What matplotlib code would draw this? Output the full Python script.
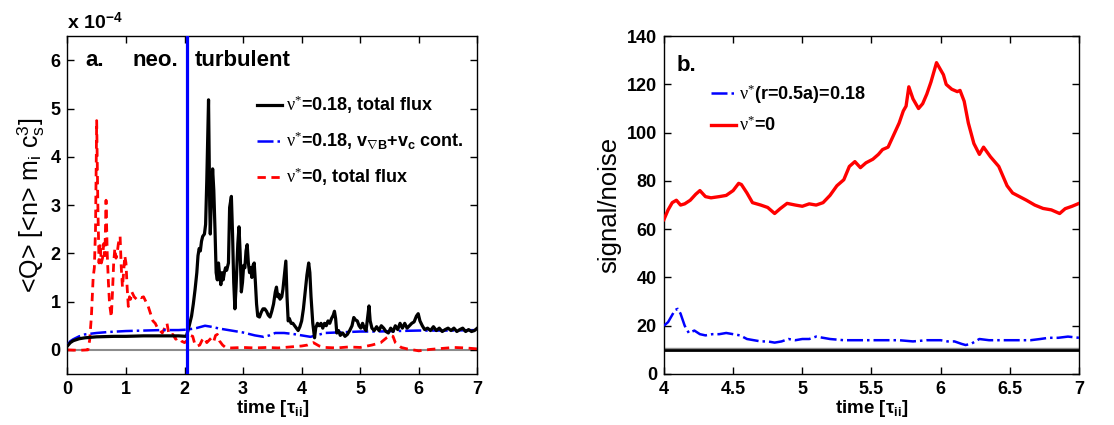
import matplotlib
matplotlib.use("Agg")
import matplotlib.pyplot as plt

plt.rcParams['font.family'] = ['Liberation Sans', 'DejaVu Sans']
plt.rcParams['mathtext.fontset'] = 'custom'
plt.rcParams['mathtext.rm'] = 'Liberation Serif'
plt.rcParams['mathtext.bf'] = 'Liberation Sans:bold'
plt.rcParams['mathtext.it'] = 'Liberation Serif:italic'

# ---------------- Panel a data (units of 1e-4) ----------------
black_t = [0.00, 0.05, 0.10, 0.20, 0.30, 0.50, 0.80, 1.00, 1.30, 1.60, 1.90, 2.03, 2.06, 2.09, 2.12, 2.15,
           2.18, 2.21, 2.23, 2.25, 2.27, 2.29, 2.31, 2.34, 2.36, 2.38, 2.41, 2.43, 2.44, 2.46, 2.48, 2.50,
           2.52, 2.54, 2.56, 2.58, 2.60, 2.62, 2.64, 2.66, 2.68, 2.70, 2.72, 2.75, 2.77, 2.80, 2.82, 2.84,
           2.86, 2.88, 2.91, 2.93, 2.95, 2.97, 2.99, 3.01, 3.03, 3.05, 3.07, 3.09, 3.11, 3.13, 3.15, 3.17,
           3.19, 3.21, 3.23, 3.25, 3.28, 3.31, 3.34, 3.37, 3.40, 3.43, 3.46, 3.49, 3.52, 3.55, 3.57, 3.59,
           3.61, 3.63, 3.66, 3.68, 3.71, 3.73, 3.75, 3.77, 3.79, 3.82, 3.85, 3.88, 3.91, 3.94, 3.97, 4.00,
           4.03, 4.06, 4.09, 4.12, 4.14, 4.16, 4.19, 4.22, 4.24, 4.27, 4.30, 4.33, 4.36, 4.39, 4.42, 4.45,
           4.48, 4.51, 4.54, 4.56, 4.58, 4.60, 4.63, 4.66, 4.70, 4.74, 4.78, 4.82, 4.86, 4.89, 4.92, 4.95,
           4.98, 5.01, 5.04, 5.07, 5.10, 5.13, 5.15, 5.17, 5.20, 5.24, 5.28, 5.32, 5.36, 5.40, 5.44, 5.48,
           5.52, 5.56, 5.60, 5.64, 5.68, 5.72, 5.76, 5.80, 5.84, 5.88, 5.92, 5.96, 5.99, 6.02, 6.06, 6.10,
           6.15, 6.20, 6.25, 6.30, 6.35, 6.40, 6.45, 6.50, 6.55, 6.60, 6.65, 6.70, 6.75, 6.80, 6.85, 6.90,
           6.95, 7.00]
black_q = [0.08, 0.15, 0.19, 0.23, 0.25, 0.27, 0.28, 0.28, 0.29, 0.29, 0.29, 0.28, 0.40, 0.55, 0.70, 0.95,
           1.25, 1.60, 1.95, 2.10, 2.05, 2.25, 2.35, 2.40, 2.60, 3.50, 5.18, 3.00, 2.40, 3.20, 3.75, 3.30,
           2.50, 1.60, 1.45, 1.80, 1.55, 1.35, 1.60, 1.45, 1.60, 1.70, 1.65, 1.80, 2.95, 3.18, 2.40, 1.40,
           0.85, 1.30, 2.20, 2.55, 2.00, 1.20, 1.40, 1.75, 1.70, 2.05, 2.18, 1.80, 1.60, 1.70, 1.50, 1.75,
           1.80, 1.40, 0.95, 0.70, 0.68, 0.78, 0.85, 0.85, 0.80, 0.72, 0.68, 0.80, 0.95, 1.20, 1.30, 1.10,
           1.15, 1.05, 1.10, 1.25, 1.60, 1.84, 1.10, 0.60, 0.65, 0.55, 0.55, 0.50, 0.45, 0.40, 0.48, 0.60,
           0.85, 1.20, 1.55, 1.80, 1.60, 1.10, 0.55, 0.25, 0.45, 0.55, 0.50, 0.55, 0.45, 0.55, 0.50, 0.60,
           0.55, 0.65, 0.72, 0.80, 0.65, 0.35, 0.40, 0.30, 0.35, 0.28, 0.32, 0.40, 0.50, 0.67, 0.62, 0.60,
           0.50, 0.45, 0.55, 0.45, 0.40, 0.70, 0.91, 0.60, 0.45, 0.40, 0.48, 0.40, 0.50, 0.45, 0.38, 0.35,
           0.45, 0.38, 0.50, 0.42, 0.55, 0.45, 0.55, 0.45, 0.50, 0.55, 0.58, 0.70, 0.75, 0.60, 0.50, 0.42,
           0.45, 0.40, 0.48, 0.40, 0.45, 0.38, 0.42, 0.45, 0.40, 0.45, 0.38, 0.42, 0.45, 0.38, 0.42, 0.38,
           0.40, 0.45]

blue_t = [0.00, 0.05, 0.10, 0.20, 0.30, 0.50, 0.70, 1.00, 1.30, 1.60, 1.90, 2.05, 2.20, 2.35, 2.45, 2.60,
          2.80, 3.00, 3.20, 3.35, 3.45, 3.55, 3.70, 3.85, 4.00, 4.15, 4.25, 4.40, 4.60, 4.80, 5.00, 5.30,
          5.60, 6.00, 6.50, 7.00]
blue_q = [0.10, 0.18, 0.22, 0.28, 0.32, 0.35, 0.37, 0.39, 0.40, 0.41, 0.41, 0.42, 0.45, 0.50, 0.48, 0.44,
          0.40, 0.36, 0.30, 0.27, 0.30, 0.35, 0.35, 0.33, 0.30, 0.27, 0.30, 0.35, 0.36, 0.37, 0.38, 0.38,
          0.39, 0.40, 0.40, 0.41]

red_t = [0.00, 0.20, 0.35, 0.38, 0.41, 0.44, 0.46, 0.48, 0.50, 0.52, 0.54, 0.56, 0.58, 0.60, 0.62, 0.64,
         0.66, 0.68, 0.70, 0.72, 0.75, 0.77, 0.79, 0.81, 0.83, 0.85, 0.87, 0.90, 0.92, 0.94, 0.96, 0.98,
         1.00, 1.02, 1.04, 1.06, 1.08, 1.10, 1.14, 1.18, 1.22, 1.26, 1.30, 1.34, 1.38, 1.42, 1.46, 1.50,
         1.54, 1.58, 1.62, 1.66, 1.70, 1.73, 1.76, 1.80, 1.85, 1.90, 1.95, 2.00, 2.05, 2.10, 2.14, 2.18,
         2.22, 2.26, 2.30, 2.34, 2.38, 2.42, 2.46, 2.50, 2.53, 2.56, 2.60, 2.65, 2.70, 2.80, 3.00, 3.20,
         3.40, 3.60, 3.80, 4.00, 4.10, 4.20, 4.30, 4.40, 4.60, 4.80, 5.00, 5.20, 5.35, 5.45, 5.52, 5.56,
         5.60, 5.70, 5.80, 6.00, 6.20, 6.40, 6.60, 6.80, 7.00]
red_q = [0.00, -0.01, 0.00, 0.20, 0.70, 1.50, 1.70, 2.50, 4.75, 3.00, 1.80, 2.20, 1.80, 1.90, 2.20, 1.95,
         3.10, 2.00, 1.40, 0.95, 0.68, 1.20, 1.80, 2.10, 1.90, 2.00, 2.20, 2.35, 1.70, 1.30, 1.60, 1.95,
         1.80, 1.30, 0.90, 1.10, 1.05, 1.20, 1.10, 1.05, 1.10, 1.08, 1.10, 1.00, 0.90, 0.75, 0.60, 0.55,
         0.45, 0.40, 0.35, 0.45, 0.55, 0.35, 0.30, 0.32, 0.22, 0.25, 0.18, 0.15, 0.20, 0.30, 0.28, 0.10,
         0.08, 0.10, 0.20, 0.25, 0.15, 0.20, 0.25, 0.18, 0.30, 0.32, 0.18, 0.10, 0.05, 0.04, 0.05, 0.04,
         0.05, 0.04, 0.06, 0.08, 0.10, 0.15, 0.08, 0.05, 0.04, 0.06, 0.05, 0.10, 0.15, 0.25, 0.30, 0.28,
         0.15, 0.05, 0.02, -0.02, 0.01, 0.03, 0.05, 0.04, 0.02]

t_transition = 2.04

# ---------------- Panel b data ----------------
snr_red_t = [4.00, 4.03, 4.06, 4.09, 4.12, 4.15, 4.19, 4.23, 4.26, 4.30, 4.34, 4.40, 4.45, 4.50, 4.54, 4.56,
             4.60, 4.64, 4.70, 4.75, 4.80, 4.84, 4.89, 4.95, 5.00, 5.05, 5.10, 5.15, 5.20, 5.25, 5.30, 5.34,
             5.38, 5.42, 5.46, 5.51, 5.55, 5.58, 5.62, 5.66, 5.70, 5.73, 5.75, 5.77, 5.80, 5.84, 5.87, 5.90,
             5.93, 5.97, 5.99, 6.02, 6.04, 6.08, 6.12, 6.14, 6.17, 6.20, 6.24, 6.28, 6.31, 6.36, 6.42, 6.48,
             6.52, 6.57, 6.62, 6.68, 6.74, 6.80, 6.86, 6.90, 6.95, 7.00]
snr_red = [64.0, 68.0, 71.0, 72.0, 70.0, 70.5, 72.0, 74.5, 76.0, 73.5, 73.0, 73.5, 74.0, 76.0, 79.0, 78.5,
           75.0, 71.0, 70.0, 69.0, 66.5, 68.5, 70.7, 70.0, 69.5, 70.5, 70.0, 71.0, 74.0, 78.0, 80.5, 86.0,
           88.0, 85.5, 87.5, 89.0, 91.0, 93.0, 94.0, 99.0, 104.0, 109.0, 111.0, 119.0, 114.0, 110.0, 112.0, 116.0,
           121.0, 129.0, 127.0, 124.0, 120.0, 118.0, 117.0, 117.5, 113.0, 104.0, 95.5, 91.0, 94.0, 90.0, 86.0, 78.0,
           75.0, 73.5, 72.0, 70.0, 68.6, 68.0, 66.5, 68.5, 69.5, 70.7]

snr_blue_t = [4.00, 4.03, 4.06, 4.08, 4.10, 4.12, 4.15, 4.18, 4.22, 4.26, 4.30, 4.35, 4.40, 4.45, 4.50, 4.55,
              4.60, 4.65, 4.70, 4.75, 4.80, 4.85, 4.90, 4.95, 5.00, 5.05, 5.10, 5.15, 5.20, 5.30, 5.40, 5.50,
              5.60, 5.70, 5.80, 5.90, 6.00, 6.05, 6.10, 6.15, 6.18, 6.22, 6.28, 6.35, 6.45, 6.55, 6.65, 6.72,
              6.78, 6.85, 6.92, 7.00]
snr_blue = [20.0, 21.5, 24.5, 26.5, 27.0, 25.0, 20.0, 17.0, 18.0, 16.5, 16.0, 16.5, 16.5, 17.0, 16.5, 16.0,
            14.5, 14.0, 13.5, 13.5, 13.0, 13.5, 14.5, 14.0, 14.5, 14.5, 15.5, 15.0, 14.5, 14.0, 14.0, 14.0,
            14.0, 14.0, 13.5, 14.0, 14.0, 13.5, 13.5, 12.5, 12.0, 12.5, 14.5, 14.0, 14.0, 14.0, 14.0, 14.5,
            15.0, 15.0, 15.5, 15.0]
snr_threshold = 10

# ---------------- Figure ----------------
fig = plt.figure(figsize=(11.14, 4.25), dpi=100)
axa = fig.add_axes([0.0605, 0.12, 0.3680, 0.795])
axb = fig.add_axes([0.596, 0.12, 0.3726, 0.795])

tickfs = 13
for ax in (axa, axb):
    ax.tick_params(direction='in', top=True, right=True, length=5, width=1,
                   labelsize=tickfs, pad=5)
    for s in ax.spines.values():
        s.set_linewidth(1.0)

NU = r'$\mathrm{\nu}^{*}$'
legprop = {'weight': 'bold', 'size': 13}

# Panel a
axa.axhline(0, color='#8c8c8c', lw=1.5, zorder=1)
l1, = axa.plot(black_t, black_q, color='black', lw=2.3, zorder=4,
               label=NU + '=0.18, total flux')
l2, = axa.plot(blue_t, blue_q, color='#0000ff', lw=1.8, ls='-.', zorder=3,
               label=NU + r'=0.18, v$_{\mathbf{\nabla B}}$+v$_{\mathbf{c}}$ cont.')
l3, = axa.plot(red_t, red_q, color='#ff0000', lw=2.0, ls=(0, (3, 2)), zorder=2,
               label=NU + '=0, total flux')
axa.axvline(t_transition, color='#0000ff', lw=2.3, zorder=5)
axa.set_xlim(0, 7)
axa.set_ylim(-0.5, 6.5)
axa.set_xticks(range(0, 8))
axa.set_yticks(range(0, 7))
axa.set_xticklabels([str(i) for i in range(0, 8)], fontweight='bold')
axa.set_yticklabels([str(i) for i in range(0, 7)], fontweight='bold')
axa.set_xlabel(r'time [$\mathbf{\tau_{ii}}$]', fontsize=13.5, fontweight='bold', labelpad=0)
axa.set_ylabel(r'<Q> [<n> m$_\mathregular{i}$ c$_\mathregular{s}^\mathregular{3}$]', fontsize=18, labelpad=3)
axa.text(0.0, 1.01, r'x 10$^{\mathbf{-4}}$', transform=axa.transAxes, fontsize=14,
         fontweight='bold', ha='left', va='bottom')
axa.text(0.46, 6.0, 'a.', fontsize=16, fontweight='bold', ha='center', va='center')
axa.text(1.50, 6.0, 'neo.', fontsize=16, fontweight='bold', ha='center', va='center')
axa.text(2.17, 6.0, 'turbulent', fontsize=16, fontweight='bold', ha='left', va='center')
axa.legend(handles=[l1, l2, l3], loc='upper left', bbox_to_anchor=(0.445, 0.85),
           frameon=False, prop=legprop, handlelength=1.4,
           handletextpad=0.2, labelspacing=0.75, borderaxespad=0)

# Panel b
axb.axhline(snr_threshold + 0.6, color='#8c8c8c', lw=1.0, zorder=1)
axb.axhline(snr_threshold, color='black', lw=2.0, zorder=2)
m1, = axb.plot(snr_blue_t, snr_blue, color='#0000ff', lw=1.8, ls='-.', zorder=3,
               label=NU + '(r=0.5a)=0.18')
m2, = axb.plot(snr_red_t, snr_red, color='#ff0000', lw=2.4, zorder=4,
               label=NU + '=0')
axb.set_xlim(4, 7)
axb.set_ylim(0, 140)
axb.set_xticks([4, 4.5, 5, 5.5, 6, 6.5, 7])
axb.set_xticklabels(['4', '4.5', '5', '5.5', '6', '6.5', '7'], fontweight='bold')
axb.set_yticks(range(0, 141, 20))
axb.set_yticklabels([str(v) for v in range(0, 141, 20)], fontweight='bold')
axb.set_xlabel(r'time [$\mathbf{\tau_{ii}}$]', fontsize=13.5, fontweight='bold', labelpad=0)
axb.set_ylabel('signal/noise', fontsize=18.5, labelpad=4)
axb.text(4.09, 128, 'b.', fontsize=16, fontweight='bold', ha='left', va='center')
axb.legend(handles=[m1, m2], loc='upper left', bbox_to_anchor=(0.095, 0.885),
           frameon=False, prop=legprop, handlelength=1.4,
           handletextpad=0.2, labelspacing=0.55, borderaxespad=0)

fig.savefig('out.png', dpi=100)
